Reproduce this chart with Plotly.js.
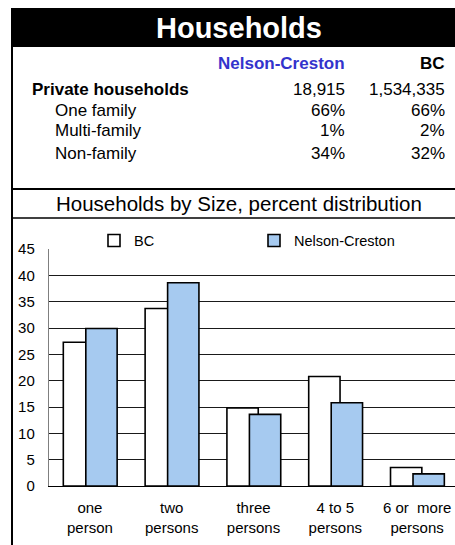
<!DOCTYPE html>
<html>
<head>
<meta charset="utf-8">
<script src="https://cdn.plot.ly/plotly-3.0.1.min.js"></script>
<style>
  html, body { margin: 0; padding: 0; background: #fff; overflow: hidden; }
  #chart { width: 460px; height: 545px; }
</style>
</head>
<body>
<div id="chart"></div>
<script>
// ---- data ----
var categories = ["one<br>person", "two<br>persons", "three<br>persons", "4 to 5<br>persons", "6 or  more<br>persons"];
var bcValues = [27.3, 33.7, 14.8, 20.8, 3.5];
var ncValues = [29.9, 38.6, 13.6, 15.8, 2.3];
var seriesNames = ["BC", "Nelson-Creston"];
var yTicks = [0, 5, 10, 15, 20, 25, 30, 35, 40, 45];

var headerTitle = "Households";
var chartTitle = "Households by Size, percent distribution";
var tableColumns = ["Nelson-Creston", "BC"];
var tableRows = ["Private households", "One family", "Multi-family", "Non-family"];
var tableNC = ["18,915", "66%", "1%", "34%"];
var tableBC = ["1,534,335", "66%", "2%", "32%"];

// ---- geometry helpers (pixel -> paper) ----
var FW = 460, FH = 545;
var ML = 49, MR = 2, MT = 249, MB = 59;
var PW = FW - ML - MR, PH = FH - MT - MB;
function px(x) { return (x - ML) / PW; }
function py(y) { return (FH - MB - y) / PH; }

var FONT = "Liberation Sans, Arial, Helvetica, sans-serif";

var traces = [
  {
    type: "bar", name: seriesNames[0], x: categories, y: bcValues,
    width: 0.383, offset: -0.325,
    marker: { color: "#ffffff", line: { color: "#000000", width: 1.6 } },
    legend: "legend", hoverinfo: "x+y"
  },
  {
    type: "bar", name: seriesNames[1], x: categories, y: ncValues,
    width: 0.383, offset: -0.05,
    marker: { color: "#a6caf0", line: { color: "#000000", width: 1.6 } },
    legend: "legend2", hoverinfo: "x+y"
  }
];

var annotations = [];
function txt(t, x, y, xa, size, color, bold) {
  annotations.push({
    text: bold ? "<b>" + t + "</b>" : t,
    x: px(x), y: py(y), xref: "paper", yref: "paper",
    xanchor: xa, yanchor: "middle", showarrow: false,
    borderpad: 0,
    font: { family: FONT, size: size, color: color }
  });
}
txt(headerTitle, 239, 28, "center", 29, "#ffffff", true);
txt(tableColumns[0], 346, 63, "right", 17, "#3333cc", true);
txt(tableColumns[1], 446, 63, "right", 17, "#000000", true);
var rowY = [89, 110, 130, 153];
var rowX = [31, 54, 54, 54];
for (var i = 0; i < tableRows.length; i++) {
  txt(tableRows[i], rowX[i], rowY[i], "left", 17, "#000000", i === 0);
  txt(tableNC[i], 346, rowY[i], "right", 17, "#000000", false);
  txt(tableBC[i], 446, rowY[i], "right", 17, "#000000", false);
}
txt(chartTitle, 239, 203, "center", 20.5, "#000000", false);

var shapes = [
  { type: "rect", xref: "paper", yref: "paper", x0: px(11), x1: px(470), y0: py(8), y1: py(47),
    fillcolor: "#000000", line: { width: 0 }, layer: "below" },
  { type: "line", xref: "paper", yref: "paper", x0: px(12), x1: px(12), y0: py(8), y1: py(560),
    line: { color: "#000000", width: 2 } },
  { type: "line", xref: "paper", yref: "paper", x0: px(11), x1: px(470), y0: py(189), y1: py(189),
    line: { color: "#000000", width: 2 } },
  { type: "line", xref: "paper", yref: "paper", x0: px(11), x1: px(470), y0: py(218), y1: py(218),
    line: { color: "#000000", width: 1.5 } }
];

var layout = {
  width: FW, height: FH,
  margin: { l: ML, r: MR, t: MT, b: MB, pad: 0 },
  paper_bgcolor: "#ffffff", plot_bgcolor: "#ffffff",
  barmode: "overlay",
  font: { family: FONT, size: 15, color: "#000000" },
  showlegend: true,
  legend: {
    orientation: "h", x: px(94), y: py(240.5), xanchor: "left", yanchor: "middle",
    font: { family: FONT, size: 14.5, color: "#000" }, bgcolor: "rgba(0,0,0,0)",
    borderwidth: 0
  },
  legend2: {
    orientation: "h", x: px(254), y: py(240.5), xanchor: "left", yanchor: "middle",
    font: { family: FONT, size: 14.5, color: "#000" }, bgcolor: "rgba(0,0,0,0)",
    borderwidth: 0
  },
  xaxis: {
    type: "category", range: [-0.5, 4.5], fixedrange: true,
    showline: true, linecolor: "#000000", linewidth: 1.2,
    showgrid: false, zeroline: false, ticks: "",
    tickfont: { family: FONT, size: 15, color: "#000" },
    ticklabelstandoff: 8
  },
  yaxis: {
    range: [0, 45], tickvals: yTicks, fixedrange: true,
    showline: true, linecolor: "#7f7f7f", linewidth: 1.2,
    showgrid: true, gridcolor: "#1a1a1a", gridwidth: 1,
    zeroline: false, ticks: "",
    tickfont: { family: FONT, size: 15, color: "#000" },
    ticklabelstandoff: 10
  },
  annotations: annotations,
  shapes: shapes
};

Plotly.newPlot("chart", traces, layout, { displayModeBar: false, staticPlot: true });
</script>
</body>
</html>
